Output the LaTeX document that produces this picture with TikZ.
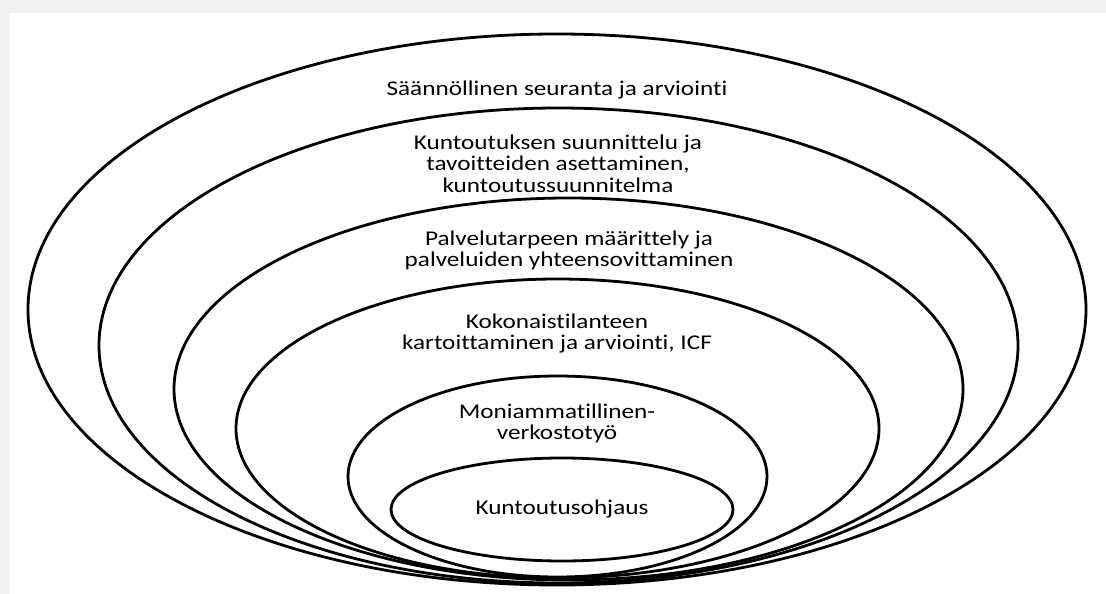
\documentclass[tikz,border=0pt]{standalone}
\usepackage{fontspec}
\setmainfont{Carlito}[FakeStretch=1.2, Ligatures=NoCommon]
\usepackage{tikz}
\usetikzlibrary{positioning}

\tikzset{
  ring/.style = {line width=2.8pt, black},
  ringtext/.style = {align=center, inner sep=0pt, font=\fontsize{21}{21.5}\selectfont}
}

\begin{document}
\begin{tikzpicture}[x=1pt, y=-1pt]
\useasboundingbox (0,0) rectangle (1106,594);
\fill [black!6] (0,0) rectangle (1106,594);
\fill [white] (9,13) rectangle (1106,594);
\begin{scope}
  \draw [ring] (557,309.5) ellipse [x radius=529, y radius=275.5];
  \draw [ring] (558.5,345.5) ellipse [x radius=459.5, y radius=237.5];
  \draw [ring] (568.5,389) ellipse [x radius=394.5, y radius=191];
  \draw [ring] (557.5,428.5) ellipse [x radius=321.5, y radius=149.5];
  \draw [ring] (557.5,476.5) ellipse [x radius=209.5, y radius=100.5];
  \draw [ring] (562,509.5) ellipse [x radius=171, y radius=51.5];
\end{scope}
\begin{scope}
  \node [ringtext] (seuranta) at (557,90) {Säännöllinen seuranta ja arviointi};
  \node [ringtext] (suunnittelu) at (558,163.5) {Kuntoutuksen suunnittelu ja\\tavoitteiden asettaminen,\\kuntoutussuunnitelma};
  \node [ringtext] (palvelu) at (569,250.5) {Palvelutarpeen määrittely ja\\palveluiden yhteensovittaminen};
  \node [ringtext] (kartoitus) at (557,333.5) {Kokonaistilanteen\\kartoittaminen ja arviointi, ICF};
  \node [ringtext] (verkosto) at (557,423.5) {Moniammatillinen-\\verkostotyö};
  \node [ringtext] (ohjaus) at (562,509.5) {Kuntoutusohjaus};
\end{scope}
\end{tikzpicture}
\end{document}
